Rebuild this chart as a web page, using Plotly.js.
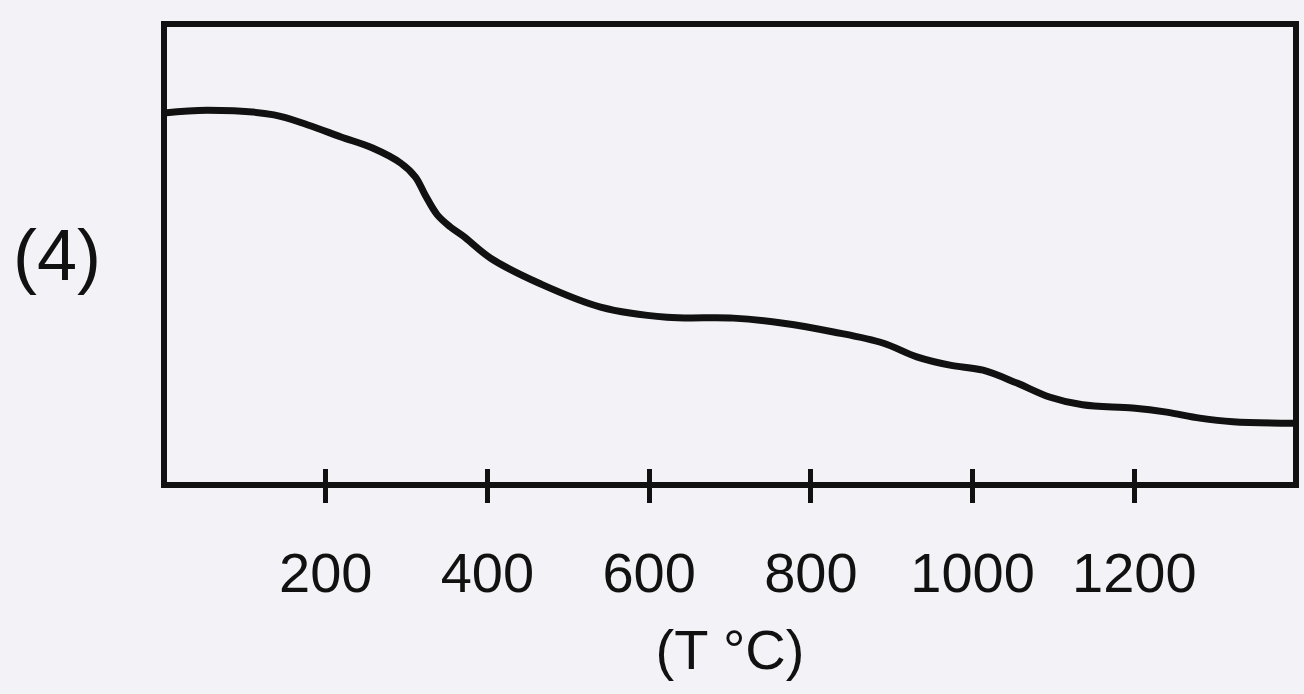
<!DOCTYPE html>
<html>
<head>
<meta charset="utf-8">
<script src="https://cdn.plot.ly/plotly-3.0.1.min.js"></script>
<style>
html,body{margin:0;padding:0;background:#f3f3f7;}
#chart{width:1304px;height:694px;}
</style>
</head>
<body>
<div id="chart"></div>
<script>
// Temperature (°C)
const temperature = [0, 54, 136, 178, 219, 258, 293, 311, 323, 338, 354, 370, 404, 466, 540, 622, 704, 766, 828, 889, 931, 972, 1013, 1055, 1095, 1136, 1198, 1240, 1281, 1322, 1399];
// Curve height, in percent of the plot box height (no scale shown)
const curveValue = [80.7, 81.3, 80.3, 78.1, 75.5, 73.1, 69.8, 66.8, 62.9, 58.6, 56.0, 54.0, 49.2, 43.6, 38.6, 36.4, 36.2, 35.1, 33.2, 30.8, 27.8, 26.0, 24.9, 22.1, 19.1, 17.4, 16.7, 15.8, 14.5, 13.7, 13.4];
const tickValues = [200, 400, 600, 800, 1000, 1200];
const tickLabels = ["200", "400", "600", "800", "1000", "1200"];
const panelLabel = "(4)";
const xTitle = "(T °C)";

const FONT = "Arial, 'Liberation Sans', Helvetica, sans-serif";
const INK = "#111111";
const BG = "#f3f3f7";

const traces = [
  {
    x: temperature, y: curveValue, type: "scatter", mode: "lines",
    line: {color: INK, width: 7, shape: "spline", smoothing: 1},
    hoverinfo: "x+y", showlegend: false
  },
  {
    x: temperature, y: curveValue, type: "scatter", mode: "lines",
    xaxis: "x2", yaxis: "y",
    line: {color: "rgba(0,0,0,0)", width: 0},
    hoverinfo: "skip", showlegend: false
  }
];

const layout = {
  width: 1304, height: 694,
  margin: {l: 164, r: 8, t: 24, b: 209, pad: 0},
  paper_bgcolor: BG, plot_bgcolor: BG,
  showlegend: false,
  font: {family: FONT, color: INK},
  xaxis: {
    range: [0, 1400], tickmode: "array", tickvals: tickValues, ticktext: tickLabels,
    ticks: "outside", ticklen: 17, tickwidth: 5, tickcolor: INK,
    showline: false, showgrid: false, zeroline: false,
    tickfont: {family: FONT, size: 56, color: INK},
    ticklabelstandoff: 22,
    title: {text: xTitle, font: {family: FONT, size: 56, color: INK}, standoff: 26}
  },
  xaxis2: {
    overlaying: "x", matches: "x", anchor: "y", side: "bottom",
    range: [0, 1400], tickmode: "array", tickvals: tickValues,
    ticks: "inside", ticklen: 16, tickwidth: 5, tickcolor: INK,
    showticklabels: false, showline: false, showgrid: false, zeroline: false
  },
  yaxis: {
    range: [0, 100], showticklabels: false, ticks: "", showline: false,
    showgrid: false, zeroline: false, fixedrange: true
  },
  shapes: [
    {type: "rect", xref: "paper", yref: "paper", x0: 0, x1: 1, y0: 0, y1: 1,
     line: {color: INK, width: 6}, fillcolor: "rgba(0,0,0,0)", layer: "above"}
  ],
  annotations: [
    {text: panelLabel, xref: "paper", yref: "paper", x: -0.0945, y: 0.50,
     xanchor: "center", yanchor: "middle", showarrow: false,
     font: {family: FONT, size: 72, color: INK}}
  ]
};

Plotly.newPlot("chart", traces, layout, {displayModeBar: false, staticPlot: true});
</script>
</body>
</html>
